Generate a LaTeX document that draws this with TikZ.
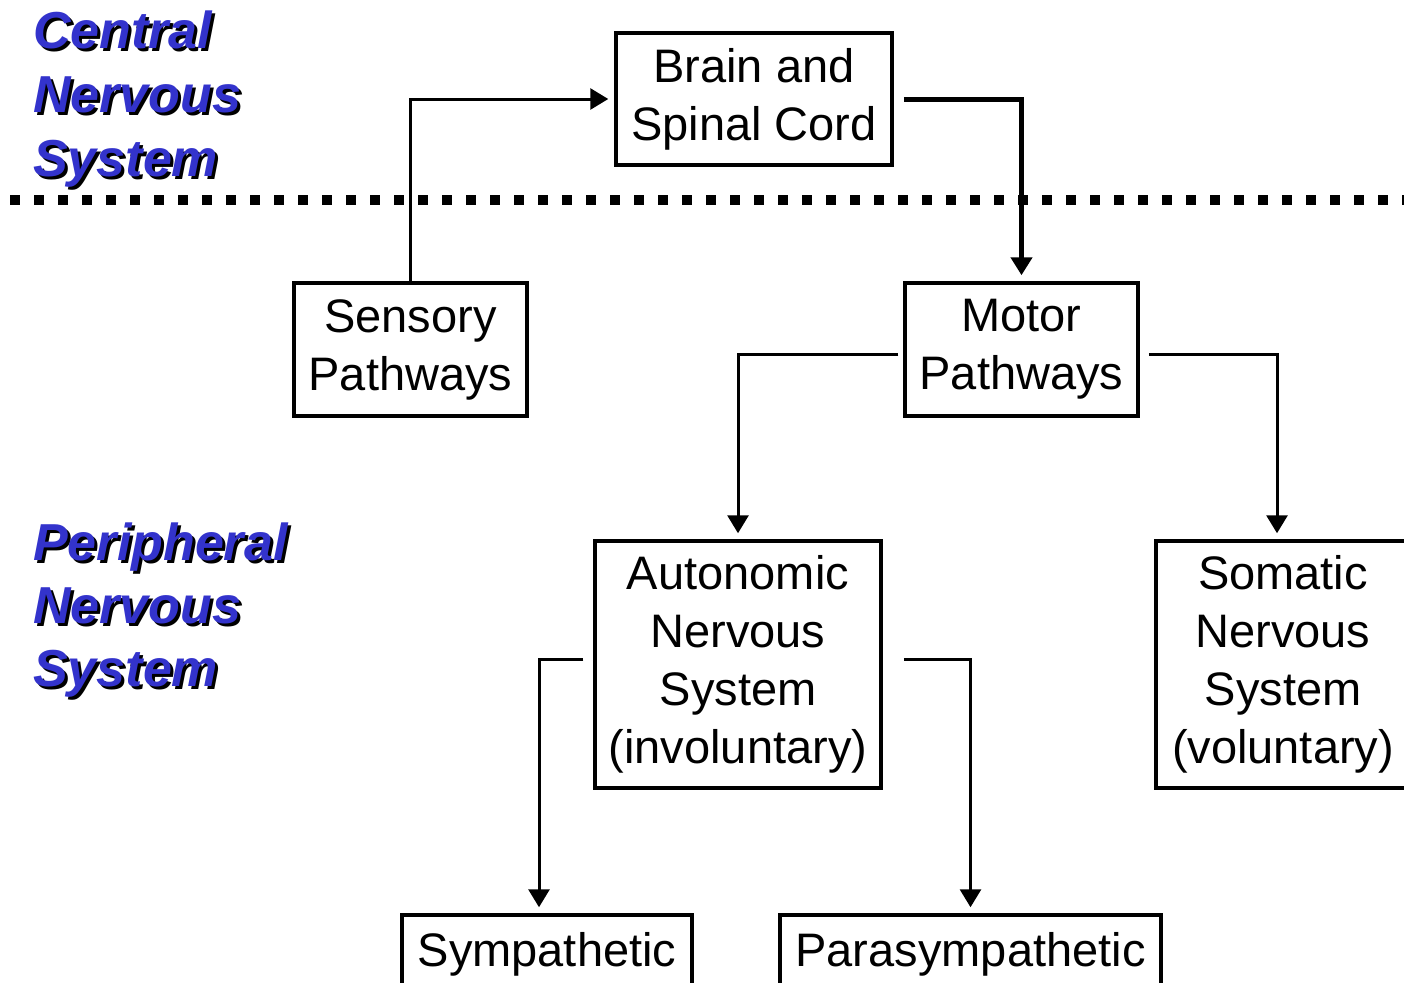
\documentclass[tikz,border=0pt]{standalone}
\usepackage{fontspec}
\setmainfont{Liberation Sans}
\usetikzlibrary{arrows.meta}
\definecolor{nsblue}{HTML}{3333CC}

\begin{document}
\begin{tikzpicture}[x=1pt,y=-1pt,
    box/.style={draw,line width=3.5pt,inner sep=0pt,align=center,
      font=\fontsize{47}{58}\selectfont,
      execute at begin node={\rule{0pt}{42pt}}},
    conn/.style={line width=3pt,-{Triangle[width=21pt,length=18pt]},shorten >=6pt},
    title/.style={anchor=base west,inner sep=0pt,text=nsblue,
      font=\fontsize{52}{63}\selectfont\bfseries\itshape},
    titleshadow/.style={title,text=black}]
  \useasboundingbox (0,0) rectangle (1404,985);
  \clip (0,0) rectangle (1404,982.5);

  % headings with drop shadow
  \foreach \word/\yy in {Central/48, Nervous/112, System/176}{
    \node[titleshadow] (cns-\word-s) at (36,\yy+3) {\word};
    \node[title] (cns-\word) at (33,\yy) {\word};
  }
  \foreach \word/\yy in {Peripheral/560, Nervous/623, System/686}{
    \node[titleshadow] (pns-\word-s) at (36,\yy+3) {\word};
    \node[title] (pns-\word) at (33,\yy) {\word};
  }

  % border between the two systems
  \draw[line width=10pt,dash pattern=on 10pt off 14pt] (10,200) -- (1404,200);

  \node[box,minimum width=276pt,minimum height=132pt] (brain) at (754,99) {Brain and\\Spinal Cord};
  \node[box,minimum width=233pt,minimum height=133pt] (sensory) at (410.5,349.5) {Sensory\\Pathways};
  \node[box,minimum width=233pt,minimum height=133pt] (motor) at (1021.5,349.5) {Motor\\Pathways};
  \node[box,minimum width=286pt,minimum height=247pt] (autonomic) at (738,664.5)
    {Autonomic\\Nervous\\System\\(involuntary)};
  \node[box,minimum width=254pt,minimum height=247pt] (somatic) at (1283,664.5)
    {Somatic\\Nervous\\System\\(voluntary)};
  \node[box,minimum width=290pt,minimum height=70pt] (sympathetic) at (547,950) {Sympathetic};
  \node[box,minimum width=381pt,minimum height=70pt] (parasympathetic) at (970.5,950) {Parasympathetic};

  \draw[conn] (sensory) |- (brain);
  \draw[conn,line width=5pt,shorten <=10pt] (brain) -| (motor);
  \draw[conn,shorten <=5pt] ([yshift=-4.5pt]motor.west) -| (autonomic);
  \draw[conn,shorten <=9pt] ([yshift=-4.5pt]motor.east) -| ([xshift=-6pt]somatic.north);
  \draw[conn,shorten <=10pt] ([yshift=5.5pt]autonomic.west) -| ([xshift=-8pt]sympathetic.north);
  \draw[conn,shorten <=21pt] ([yshift=5.5pt]autonomic.east) -| (parasympathetic);
\end{tikzpicture}
\end{document}
